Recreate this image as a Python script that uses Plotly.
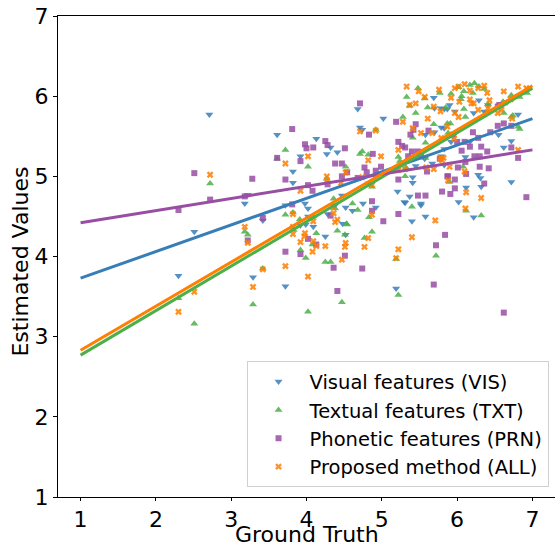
import plotly.graph_objects as go

# ---------------- data ----------------
vis_x = [2.71, 2.51, 3.22, 3.18, 3.42, 3.61, 4.13, 4.32, 4.41, 4.27, 3.92, 3.82, 3.82, 3.72, 3.98, 4.02, 4.38,
         4.47, 4.52, 4.48, 4.52, 4.25, 4.02, 3.99, 4.09, 3.92, 2.30, 3.29, 3.72, 4.28, 4.61,
         4.68, 5.02, 5.69, 5.70, 5.79, 5.83, 5.87, 5.79, 5.83, 4.71, 4.74, 5.70, 5.58, 5.57, 5.45, 5.67,
         5.79, 5.83, 5.41, 5.41, 5.21, 5.37, 5.30, 5.52, 4.75, 4.82,
         6.29, 5.90, 5.97, 6.22, 6.36, 6.41, 6.81, 6.55, 6.72, 6.62, 6.17, 5.92, 5.83, 6.11, 6.28, 6.31,
         6.32, 6.72, 6.12, 6.02, 5.94,
         4.92, 5.31, 5.52, 5.58, 5.40, 5.19, 6.22]
vis_y = [5.77, 4.31, 4.77, 4.66, 4.45, 5.52, 5.47, 5.36, 5.30, 5.28, 5.25, 5.06, 4.92, 4.64, 4.66, 4.60, 4.64,
         4.76, 4.61, 4.41, 4.27, 4.25, 4.50, 4.40, 4.37, 4.39, 3.76, 3.74, 3.63, 4.53, 4.57,
         5.84, 5.72, 5.98, 5.85, 5.85, 5.84, 5.84, 5.61, 5.60, 5.61, 5.58, 5.55, 5.52, 5.22, 5.13, 5.16,
         5.25, 5.14, 4.99, 4.92, 4.81, 4.75, 4.68, 4.66, 4.66, 4.91,
         5.95, 5.89, 5.81, 5.79, 5.81, 5.89, 5.77, 5.52, 5.44, 5.36, 5.43, 5.43, 5.34, 5.24, 5.02, 4.98,
         4.87, 4.93, 4.86, 4.68, 5.50,
         4.61, 4.67, 4.64, 4.50, 4.44, 3.60, 4.49]

txt_x = [2.72, 3.72, 3.61, 4.02, 4.27, 4.52, 3.72, 3.82, 4.36, 4.38, 4.54, 4.41, 4.13, 3.83, 3.18, 3.22,
         2.30, 2.51, 3.42, 3.29, 4.02, 3.92, 3.99, 4.08, 4.25, 4.32, 4.47, 3.91, 4.09, 4.51, 4.53, 4.61, 4.68,
         5.48, 5.77, 5.33, 5.57, 5.37, 5.61, 5.85, 5.45, 5.28, 5.69, 5.41, 5.58, 4.74, 4.71, 4.82, 5.22,
         5.24, 5.58, 5.32, 5.31, 4.87, 4.92,
         6.02, 6.17, 6.23, 6.29, 6.36, 6.09, 5.92, 6.06, 6.21, 6.05, 5.87, 5.91, 6.11, 6.09, 6.41, 6.93,
         6.83, 6.72, 6.61, 6.63, 6.62, 6.72, 6.74, 6.81, 6.83, 6.08, 5.90, 5.88,
         4.83, 4.87, 4.77, 5.40, 5.72, 5.19, 5.22, 6.12, 6.32]
txt_y = [4.91, 5.33, 5.22, 5.12, 4.97, 5.12, 4.52, 4.55, 4.72, 4.60, 4.40, 4.32, 4.29, 4.33, 4.31, 4.27,
         3.48, 3.16, 3.85, 3.40, 3.31, 4.08, 3.98, 4.15, 3.93, 3.93, 3.43, 4.46, 4.50, 4.27, 4.41, 4.66, 4.58,
         6.10, 6.04, 5.99, 5.97, 5.88, 5.86, 5.86, 5.79, 5.74, 5.65, 5.48, 5.42, 5.31, 5.28, 5.27, 5.24,
         5.19, 5.23, 5.11, 5.00, 4.87, 5.58,
         6.11, 6.14, 6.16, 6.12, 6.09, 6.06, 6.03, 6.00, 6.04, 5.96, 5.66, 5.66, 5.74, 5.84, 5.90, 6.04,
         5.99, 6.01, 5.93, 5.91, 5.79, 5.74, 5.76, 5.62, 5.59, 5.12, 4.93, 5.54,
         4.49, 4.31, 4.23, 4.62, 4.01, 3.97, 3.52, 4.57, 4.51]

prn_x = [2.51, 2.72, 2.30, 3.28, 3.18, 3.42, 3.81, 3.98, 4.00, 4.09, 4.25, 4.28, 4.51, 3.61, 3.92, 3.72,
         4.02, 4.08, 4.28, 4.47, 4.54, 3.81, 4.32, 4.02, 3.22, 3.72, 3.92, 4.13, 4.36, 4.51, 4.41, 4.38, 4.47,
         4.71, 5.19, 5.45, 5.42, 4.83, 5.62, 5.38, 5.22, 5.31, 5.27, 4.88, 4.77, 4.99, 4.92, 4.80, 4.68,
         5.40, 5.48, 5.52, 5.35, 5.60, 5.77, 5.87, 5.80, 5.22, 4.87, 5.48, 5.58,
         6.54, 6.56, 6.54, 6.62, 6.72, 6.21, 6.44, 6.28, 6.72, 6.81, 6.32, 6.40, 6.17, 6.06, 6.10, 6.00,
         6.23, 6.30, 6.11, 6.01, 6.30, 6.42, 6.12, 6.36, 5.88, 5.97, 5.97, 5.91, 6.92, 5.95,
         4.87, 5.02, 5.22, 5.84, 5.72, 4.74, 5.69, 6.62]
prn_y = [5.04, 4.71, 4.58, 4.97, 4.75, 4.48, 5.59, 5.40, 5.35, 5.36, 5.44, 5.39, 5.35, 5.23, 5.19, 4.96,
         4.89, 4.82, 4.90, 5.00, 5.05, 4.65, 4.51, 4.22, 4.20, 4.06, 4.03, 4.15, 3.86, 4.01, 3.57, 5.16, 5.16,
         5.91, 5.68, 5.65, 5.58, 5.52, 5.57, 5.52, 5.43, 5.36, 5.38, 5.28, 5.11, 5.12, 5.07, 5.05, 4.98,
         5.31, 5.31, 5.25, 5.25, 5.06, 5.22, 5.00, 4.81, 4.96, 4.69, 4.76, 4.76,
         5.87, 5.89, 5.63, 5.66, 5.63, 5.55, 5.55, 5.48, 5.36, 5.23, 5.37, 5.31, 5.37, 5.32, 5.43, 5.43,
         5.25, 5.25, 5.18, 5.11, 5.12, 5.10, 5.03, 4.91, 5.00, 4.96, 4.85, 4.78, 4.74, 5.52,
         4.57, 4.44, 4.53, 4.27, 4.14, 3.85, 3.65, 3.30]

all_x = [2.72, 3.72, 4.02, 3.92, 4.27, 4.27, 4.46, 4.52, 3.82, 4.35, 4.41, 4.38, 4.09, 3.98, 3.82, 3.97,
         3.18, 2.30, 2.51, 3.22, 3.42, 3.29, 3.72, 4.02, 3.92, 4.08, 4.13, 4.25, 4.47, 4.52, 4.36, 3.82,
         4.09, 4.51,
         5.33, 5.49, 5.76, 5.57, 5.45, 5.37, 5.69, 5.78, 5.28, 5.61, 5.41, 4.71, 4.92, 5.52, 5.67, 5.79,
         5.22, 4.99, 4.82, 4.74, 5.31, 5.22, 5.69, 5.59, 5.78, 5.82, 5.80, 4.87,
         5.97, 6.02, 6.10, 6.28, 6.36, 6.17, 6.40, 5.92, 6.03, 6.17, 6.19, 6.22, 5.97, 6.02, 5.87, 6.28,
         6.41, 6.43, 6.62, 6.81, 6.92, 6.71, 6.59, 6.54, 6.73, 6.81, 5.90, 6.10, 5.88, 6.12, 6.32, 5.96,
         4.87, 4.82, 4.77, 5.71, 5.40, 5.22, 5.19, 6.11]
all_y = [5.02, 5.16, 5.25, 4.82, 5.00, 4.94, 4.92, 5.05, 4.53, 4.62, 4.46, 4.43, 4.44, 4.29, 4.28, 4.25,
         4.37, 3.31, 3.56, 4.17, 3.84, 3.62, 3.88, 3.75, 4.18, 4.06, 4.13, 4.13, 3.96, 4.17, 4.54, 4.37,
         4.19, 4.12,
         6.12, 6.06, 6.08, 5.99, 5.91, 5.89, 5.87, 5.81, 5.68, 5.72, 5.60, 5.56, 5.57, 5.54, 5.54, 5.48,
         5.33, 5.25, 5.20, 4.99, 5.09, 5.08, 5.09, 5.11, 5.23, 5.23, 5.20, 4.89,
         6.10, 6.12, 6.15, 6.10, 6.13, 6.07, 6.04, 5.98, 5.93, 5.96, 5.91, 5.91, 5.79, 5.74, 5.62, 5.83,
         5.85, 5.95, 6.06, 6.12, 6.10, 5.96, 5.83, 5.79, 5.72, 5.33, 5.12, 5.06, 4.95, 4.80, 4.73, 5.47,
         4.52, 4.23, 4.12, 4.45, 4.24, 4.09, 3.98, 4.60]

# regression lines (endpoints read at ground truth 1 and 7)
fit_x = [1, 7]
vis_fit = [3.73, 5.72]
txt_fit = [2.77, 6.10]
prn_fit = [4.42, 5.33]
all_fit = [2.83, 6.13]

tick_vals = [1, 2, 3, 4, 5, 6, 7]
names = ["Visual features (VIS)", "Textual features (TXT)",
         "Phonetic features (PRN)", "Proposed method (ALL)"]
x_title = "Ground Truth"
y_title = "Estimated Values"

colors = ["#377eb8", "#4daf4a", "#984ea3", "#ff7f00"]
symbols = ["triangle-down", "triangle-up", "square", "x"]
sizes = [7, 7, 6, 6]

series = [(vis_x, vis_y, vis_fit), (txt_x, txt_y, txt_fit),
          (prn_x, prn_y, prn_fit), (all_x, all_y, all_fit)]

fig = go.Figure()
for i, (sx, sy, fy) in enumerate(series):
    fig.add_trace(go.Scatter(
        x=sx, y=sy, mode="markers", name=names[i],
        marker=dict(symbol=symbols[i], color=colors[i], size=sizes[i],
                    opacity=0.85, line=dict(width=0)),
    ))
for i, (sx, sy, fy) in enumerate(series):
    fig.add_trace(go.Scatter(
        x=fit_x, y=fy, mode="lines", showlegend=False,
        line=dict(color=colors[i], width=3),
    ))

font = "DejaVu Sans"
fig.update_layout(
    width=555, height=548,
    margin=dict(l=58, r=0, t=16, b=51),
    paper_bgcolor="white", plot_bgcolor="white",
    font=dict(family=font, color="black", size=22),
    showlegend=True,
    legend=dict(
        x=0.987, y=0.02, xanchor="right", yanchor="bottom",
        bgcolor="rgba(255,255,255,0.8)", bordercolor="#d0d0d0", borderwidth=1,
        font=dict(family=font, size=19.5, color="black"),
        itemwidth=52,
    ),
    xaxis=dict(
        range=[0.7, 7.3], tickvals=tick_vals,
        showgrid=False, zeroline=False,
        showline=True, linecolor="black", linewidth=1, mirror=True,
        ticks="outside", ticklen=3, tickcolor="black",
        tickfont=dict(size=22),
    ),
    yaxis=dict(
        range=[1, 7], tickvals=tick_vals,
        showgrid=False, zeroline=False,
        showline=True, linecolor="black", linewidth=1, mirror=True,
        ticks="outside", ticklen=4, tickcolor="black",
        tickfont=dict(size=22),
    ),
    annotations=[
        dict(text=x_title, xref="paper", yref="paper", x=0.5, y=-0.078,
             xanchor="center", yanchor="middle", showarrow=False,
             font=dict(family=font, size=22, color="black")),
        dict(text=y_title, xref="paper", yref="paper", x=-0.076, y=0.49,
             xanchor="center", yanchor="middle", showarrow=False, textangle=-90,
             font=dict(family=font, size=22, color="black")),
    ],
)

fig.write_html("out.html", config={"displayModeBar": False},
               post_script="document.body.style.margin='0';")
